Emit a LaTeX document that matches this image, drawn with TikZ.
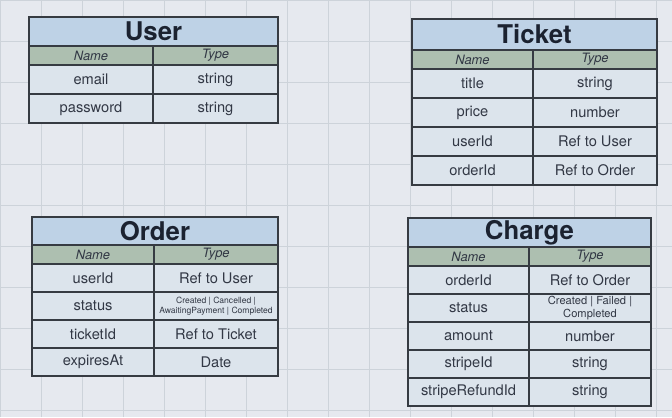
\documentclass[tikz,border=0pt]{standalone}
\usepackage{fontspec}
\setmainfont{TeX Gyre Heros}
\usetikzlibrary{positioning}
\definecolor{titleblue}{HTML}{BED2E6}
\definecolor{headgreen}{HTML}{ADBFB0}
\definecolor{cellblue}{HTML}{DCE4EC}
\definecolor{screen}{HTML}{E6E9EF}
\definecolor{gridgray}{HTML}{CDD3DA}
\definecolor{rulegray}{HTML}{363B42}
\definecolor{inkdark}{HTML}{1B2230}

\begin{document}
\begin{tikzpicture}[x=0.03cm,y=-0.03cm,
  every node/.style={draw=rulegray, line width=1.1pt, inner sep=0pt, outer sep=0pt, align=center, text=inkdark!90},
  tabletitle/.style={fill=titleblue, anchor=north west, text=inkdark, font=\fontsize{22}{24}\selectfont\bfseries},
  colhead/.style={fill=headgreen, minimum height=0.57cm, font=\fontsize{11}{12}\selectfont\itshape},
  cell/.style={fill=cellblue, font=\fontsize{12.5}{14}\selectfont},
  smalltext/.style={font=\fontsize{7.3}{8.3}\selectfont}]
  \useasboundingbox (0,0) rectangle (672,417);
  \fill[screen] (0,0) rectangle (672,417);
  \draw[gridgray, step=1.23cm] (0,0) grid (672,417);

  % User
  \begin{scope}[namecol/.style={minimum width=3.72cm}, typecol/.style={minimum width=3.75cm}, cell/.append style={minimum height=0.87cm}]
    \node[tabletitle, minimum width=7.47cm, minimum height=0.87cm] (user) at (29,17) {User};
    \node[colhead, namecol, below=0pt of user.south west, anchor=north west] (user-name) {Name};
    \node[colhead, typecol, right=0pt of user-name] (user-type) {Type};
    \node[cell, namecol, below=0pt of user-name] (user-email) {email};
    \node[cell, typecol, below=0pt of user-type] (user-email-t) {string};
    \node[cell, namecol, below=0pt of user-email] (user-password) {password};
    \node[cell, typecol, below=0pt of user-email-t] (user-password-t) {string};
  \end{scope}

  % Ticket
  \begin{scope}[namecol/.style={minimum width=3.63cm}, typecol/.style={minimum width=3.72cm}, cell/.append style={minimum height=0.87cm}]
    \node[tabletitle, minimum width=7.35cm, minimum height=0.93cm] (ticket) at (412,19) {Ticket};
    \node[colhead, namecol, below=0pt of ticket.south west, anchor=north west] (ticket-name) {Name};
    \node[colhead, typecol, right=0pt of ticket-name] (ticket-type) {Type};
    \node[cell, namecol, below=0pt of ticket-name] (ticket-title) {title};
    \node[cell, typecol, below=0pt of ticket-type] (ticket-title-t) {string};
    \node[cell, namecol, below=0pt of ticket-title] (ticket-price) {price};
    \node[cell, typecol, below=0pt of ticket-title-t] (ticket-price-t) {number};
    \node[cell, namecol, below=0pt of ticket-price] (ticket-userid) {userId};
    \node[cell, typecol, below=0pt of ticket-price-t] (ticket-userid-t) {Ref to User};
    \node[cell, namecol, below=0pt of ticket-userid] (ticket-orderid) {orderId};
    \node[cell, typecol, below=0pt of ticket-userid-t] (ticket-orderid-t) {Ref to Order};
  \end{scope}

  % Order
  \begin{scope}[namecol/.style={minimum width=3.66cm}, typecol/.style={minimum width=3.72cm}, cell/.append style={minimum height=0.84cm}]
    \node[tabletitle, minimum width=7.38cm, minimum height=0.84cm] (order) at (32,217) {Order};
    \node[colhead, namecol, below=0pt of order.south west, anchor=north west] (order-name) {Name};
    \node[colhead, typecol, right=0pt of order-name] (order-type) {Type};
    \node[cell, namecol, below=0pt of order-name] (order-userid) {userId};
    \node[cell, typecol, below=0pt of order-type] (order-userid-t) {Ref to User};
    \node[cell, namecol, below=0pt of order-userid] (order-status) {status};
    \node[cell, typecol, smalltext, below=0pt of order-userid-t] (order-status-t) {Created | Cancelled |\\AwaitingPayment | Completed};
    \node[cell, namecol, below=0pt of order-status] (order-ticketid) {ticketId};
    \node[cell, typecol, below=0pt of order-status-t] (order-ticketid-t) {Ref to Ticket};
    \node[cell, namecol, below=0pt of order-ticketid] (order-expires) {expiresAt};
    \node[cell, typecol, below=0pt of order-ticketid-t] (order-expires-t) {Date};
  \end{scope}

  % Charge
  \begin{scope}[namecol/.style={minimum width=3.63cm}, typecol/.style={minimum width=3.66cm}, cell/.append style={minimum height=0.84cm}]
    \node[tabletitle, minimum width=7.29cm, minimum height=0.87cm] (charge) at (408,218) {Charge};
    \node[colhead, namecol, below=0pt of charge.south west, anchor=north west] (charge-name) {Name};
    \node[colhead, typecol, right=0pt of charge-name] (charge-type) {Type};
    \node[cell, namecol, below=0pt of charge-name] (charge-orderid) {orderId};
    \node[cell, typecol, below=0pt of charge-type] (charge-orderid-t) {Ref to Order};
    \node[cell, namecol, below=0pt of charge-orderid] (charge-status) {status};
    \node[cell, typecol, font=\fontsize{9.5}{10.5}\selectfont, below=0pt of charge-orderid-t] (charge-status-t) {Created | Failed |\\Completed};
    \node[cell, namecol, below=0pt of charge-status] (charge-amount) {amount};
    \node[cell, typecol, below=0pt of charge-status-t] (charge-amount-t) {number};
    \node[cell, namecol, below=0pt of charge-amount] (charge-stripeid) {stripeId};
    \node[cell, typecol, below=0pt of charge-amount-t] (charge-stripeid-t) {string};
    \node[cell, namecol, below=0pt of charge-stripeid] (charge-refund) {stripeRefundId};
    \node[cell, typecol, below=0pt of charge-stripeid-t] (charge-refund-t) {string};
  \end{scope}
\end{tikzpicture}
\end{document}
